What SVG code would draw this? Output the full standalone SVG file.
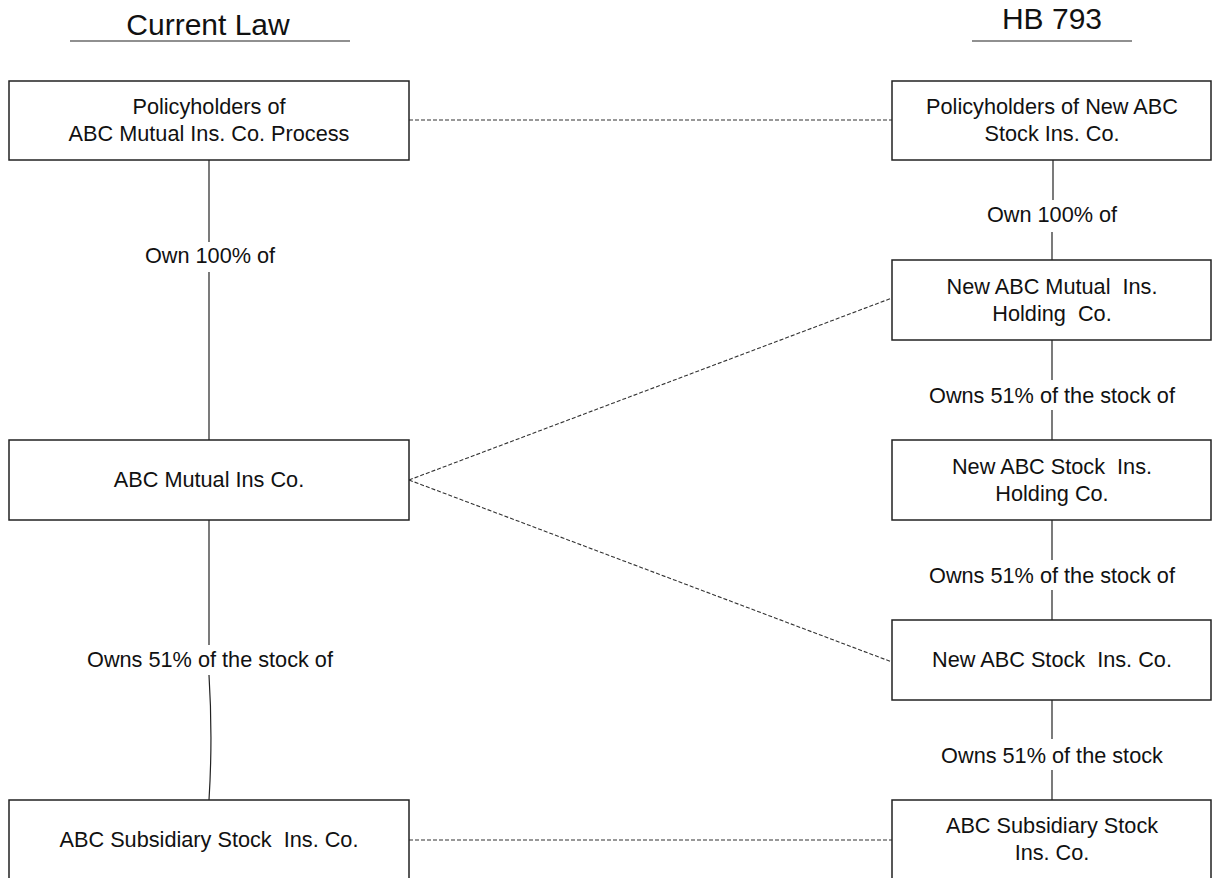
<svg xmlns="http://www.w3.org/2000/svg" width="1218" height="878" viewBox="0 0 1218 878">
<style>
.box{fill:#fff;stroke:#222;stroke-width:1.5}
.t{font-family:"Liberation Sans",Arial,sans-serif;font-size:21.7px;fill:#111;text-anchor:middle}
.h{font-family:"Liberation Sans",Arial,sans-serif;font-size:30px;fill:#111;text-anchor:middle}
.ln{stroke:#222;stroke-width:1.2;fill:none}
.dash{stroke:#333;stroke-width:1.1;fill:none;stroke-dasharray:4 2}
</style>
<rect width="1218" height="878" fill="#fff"/>
<g id="headers">
<text class="h" x="208" y="35">Current Law</text>
<line class="ln" x1="70" y1="41" x2="350" y2="41"/>
<text class="h" x="1052" y="29">HB 793</text>
<line class="ln" x1="972" y1="41" x2="1132" y2="41"/>
</g>
<g id="connectors">
<line class="ln" x1="209" y1="160" x2="209" y2="242"/>
<line class="ln" x1="209" y1="272" x2="209" y2="440"/>
<text class="t" x="210" y="263">Own 100% of</text>
<line class="ln" x1="209" y1="520" x2="209" y2="645"/>
<path class="ln" d="M209,675 C211.5,715 211.5,760 209,800"/>
<text class="t" x="210" y="667">Owns 51% of the stock of</text>
<line class="ln" x1="1053" y1="160" x2="1053" y2="200"/>
<line class="ln" x1="1052" y1="232" x2="1052" y2="260"/>
<text class="t" x="1052" y="222">Own 100% of</text>
<line class="ln" x1="1052" y1="340" x2="1052" y2="380"/>
<line class="ln" x1="1052" y1="410" x2="1052" y2="440"/>
<text class="t" x="1052" y="403">Owns 51% of the stock of</text>
<line class="ln" x1="1052" y1="520" x2="1052" y2="560"/>
<line class="ln" x1="1052" y1="590" x2="1052" y2="620"/>
<text class="t" x="1052" y="583">Owns 51% of the stock of</text>
<line class="ln" x1="1052" y1="700" x2="1052" y2="739"/>
<line class="ln" x1="1052" y1="770" x2="1052" y2="800"/>
<text class="t" x="1052" y="763">Owns 51% of the stock</text>
<line class="dash" x1="409" y1="120" x2="892" y2="120"/>
<line class="dash" x1="409" y1="480" x2="892" y2="298"/>
<line class="dash" x1="409" y1="480" x2="892" y2="662"/>
<line class="dash" x1="409" y1="840" x2="892" y2="840"/>
</g>
<g id="n-policyholders-abc">
<rect class="box" x="9" y="81" width="400" height="79"/>
<text class="t" x="209" y="114">Policyholders of</text>
<text class="t" x="209" y="141">ABC Mutual Ins. Co. Process</text>
</g>
<g id="n-abc-mutual">
<rect class="box" x="9" y="440" width="400" height="80"/>
<text class="t" x="209" y="487">ABC Mutual Ins Co.</text>
</g>
<g id="n-abc-subsidiary-left">
<rect class="box" x="9" y="800" width="400" height="90"/>
<text class="t" x="209" y="847" xml:space="preserve">ABC Subsidiary Stock  Ins. Co.</text>
</g>
<g id="n-policyholders-new">
<rect class="box" x="892" y="81" width="319" height="79"/>
<text class="t" x="1052" y="114">Policyholders of New ABC</text>
<text class="t" x="1052" y="141">Stock Ins. Co.</text>
</g>
<g id="n-new-mutual-holding">
<rect class="box" x="892" y="260" width="319" height="80"/>
<text class="t" x="1052" y="294" xml:space="preserve">New ABC Mutual  Ins.</text>
<text class="t" x="1052" y="321" xml:space="preserve">Holding  Co.</text>
</g>
<g id="n-new-stock-holding">
<rect class="box" x="892" y="440" width="319" height="80"/>
<text class="t" x="1052" y="474" xml:space="preserve">New ABC Stock  Ins.</text>
<text class="t" x="1052" y="501">Holding Co.</text>
</g>
<g id="n-new-stock">
<rect class="box" x="892" y="620" width="319" height="80"/>
<text class="t" x="1052" y="667" xml:space="preserve">New ABC Stock  Ins. Co.</text>
</g>
<g id="n-abc-subsidiary-right">
<rect class="box" x="892" y="800" width="319" height="90"/>
<text class="t" x="1052" y="833">ABC Subsidiary Stock</text>
<text class="t" x="1052" y="860">Ins. Co.</text>
</g>
</svg>
